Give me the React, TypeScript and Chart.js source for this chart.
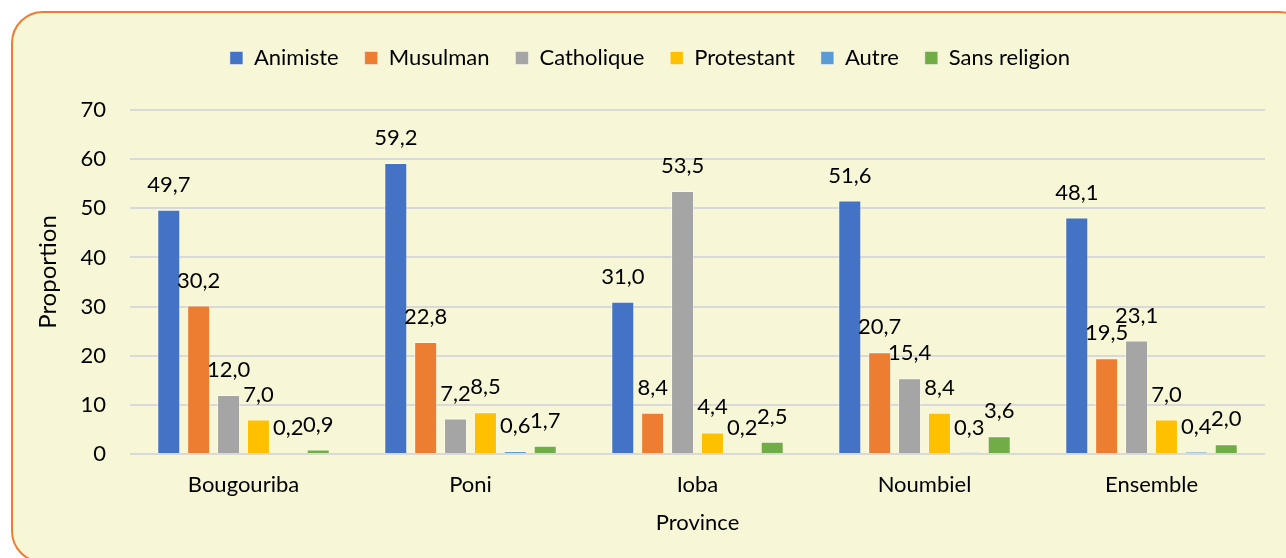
import React, { useEffect, useRef } from "react";
import { Chart, registerables } from "chart.js";

Chart.register(...registerables);

const categories = ["Bougouriba", "Poni", "Ioba", "Noumbiel", "Ensemble"];
const seriesNames = ["Animiste", "Musulman", "Catholique", "Protestant", "Autre", "Sans religion"];
const seriesColors = ["#4472C4", "#ED7D31", "#A5A5A5", "#FFC000", "#5B9BD5", "#70AD47"];
const animiste = [49.7, 59.2, 31.0, 51.6, 48.1];
const musulman = [30.2, 22.8, 8.4, 20.7, 19.5];
const catholique = [12.0, 7.2, 53.5, 15.4, 23.1];
const protestant = [7.0, 8.5, 4.4, 8.4, 7.0];
const autre = [0.2, 0.6, 0.2, 0.3, 0.4];
const sansReligion = [0.9, 1.7, 2.5, 3.6, 2.0];
const seriesValues = [animiste, musulman, catholique, protestant, autre, sansReligion];
const yTicks = [0, 10, 20, 30, 40, 50, 60, 70];
const yTitle = "Proportion";

const FONT = "Lato, 'Open Sans', sans-serif";
const FS = 22;

const labelPlugin = {
  id: "barLabels",
  afterDatasetsDraw(chart: any) {
    const ctx = chart.ctx;
    ctx.save();
    ctx.font = `${FS}px ${FONT}`;
    ctx.fillStyle = "#000000";
    ctx.textAlign = "center";
    ctx.textBaseline = "middle";
    chart.data.datasets.forEach((ds: any, di: number) => {
      const meta = chart.getDatasetMeta(di);
      meta.data.forEach((bar: any, i: number) => {
        const v = ds.data[i] as number;
        const txt = v.toFixed(1).replace(".", ",");
        ctx.fillText(txt, bar.x, bar.y - 25);
      });
    });
    // y axis title
    const area = chart.chartArea;
    ctx.translate(48, (area.top + area.bottom) / 2 - 10);
    ctx.rotate(-Math.PI / 2);
    ctx.font = `24px ${FONT}`;
    ctx.fillText(yTitle, 0, 0);
    ctx.restore();
  },
};

const legendSpace = {
  id: "legendSpace",
  beforeInit(chart: any) {
    const lg = chart.legend;
    if (!lg) return;
    const orig = lg.fit;
    lg.fit = function () {
      orig.call(this);
      this.height += 31;
    };
  },
};

export default function App() {
  const ref = useRef<HTMLCanvasElement | null>(null);

  useEffect(() => {
    if (!ref.current) return;
    const chart = new Chart(ref.current, {
      type: "bar",
      data: {
        labels: categories,
        datasets: seriesNames.map((name, i) => ({
          label: name,
          data: seriesValues[i],
          backgroundColor: seriesColors[i],
          borderColor: "rgba(255,255,255,0.45)",
          borderWidth: 1,
          categoryPercentage: 0.79,
          barPercentage: 0.77,
        })),
      },
      options: {
        animation: false,
        responsive: false,
        maintainAspectRatio: false,
        layout: { padding: { left: 35, right: 21, top: 21, bottom: 22 } },
        plugins: {
          legend: {
            position: "top",
            labels: {
              font: { family: FONT, size: FS },
              color: "#000000",
              boxWidth: 13,
              boxHeight: 13,
              padding: 26,
            },
          },
          tooltip: { enabled: false },
        },
        scales: {
          x: {
            afterFit(scale: any) {
              scale.height = 82;
            },
            grid: { display: false, drawTicks: false },
            border: { display: false },
            ticks: {
              font: { family: FONT, size: FS },
              color: "#000000",
              padding: 18,
            },
            title: {
              display: true,
              text: "Province",
              font: { family: FONT, size: FS },
              color: "#000000",
              padding: { top: 0, bottom: 0 },
            },
          },
          y: {
            min: 0,
            max: 70,
            afterFit(scale: any) {
              scale.width = 95;
            },
            afterBuildTicks(scale: any) {
              scale.ticks = yTicks.map((v) => ({ value: v }));
            },
            grid: { color: "#D9D9D9", lineWidth: 2, drawTicks: false },
            border: { display: false },
            ticks: {
              font: { family: FONT, size: FS },
              color: "#000000",
              padding: 24,
            },
            title: { display: false },
          },
        },
      },
      plugins: [labelPlugin, legendSpace],
    });
    return () => chart.destroy();
  }, []);

  return (
    <div style={{ position: "fixed", left: 0, top: 0, width: 1286, height: 558, background: "#FFFFFF", overflow: "hidden" }}>
      <div
        style={{
          position: "absolute",
          left: 11,
          top: 11,
          width: 1300,
          height: 552,
          boxSizing: "border-box",
          border: "2.5px solid #ED7D31",
          borderRadius: 32,
          background: "#F7F7D7",
        }}
      />
      <canvas ref={ref} width={1286} height={558} style={{ position: "absolute", left: 0, top: 0, width: 1286, height: 558 }} />
    </div>
  );
}
